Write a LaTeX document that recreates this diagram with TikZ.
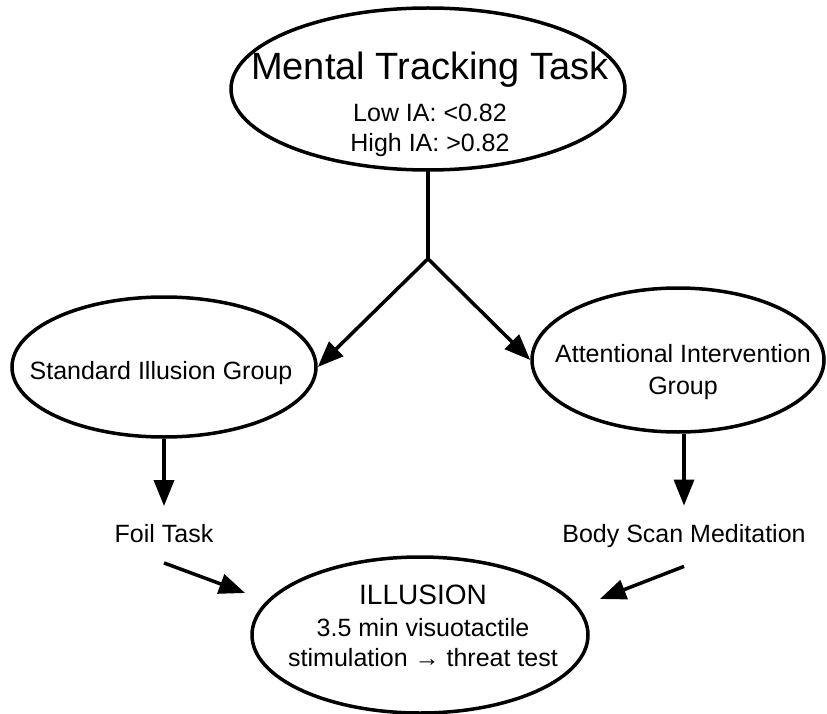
\documentclass[tikz,border=0pt]{standalone}
\usepackage{fontspec}
\setmainfont{Liberation Sans}
\usetikzlibrary{arrows.meta,shapes.geometric}

\begin{document}
\begin{tikzpicture}[x=1pt, y=-1pt, line width=3.5pt,
            oval node/.style={ellipse,draw,inner sep=0pt},
            body text/.style={align=center,inner sep=3pt,font=\fontsize{25}{30}\selectfont},
            flow/.style={-{Triangle[length=26pt,width=20pt]}}]

        \useasboundingbox (0,0) rectangle (827,714);

        % task and groups
        \node[oval node, minimum width=394pt, minimum height=162pt] (mtt) at (428,89) {};
        \node[body text] (mtt text) at (430,104) {{\fontsize{38}{44}\selectfont Mental Tracking Task}\\[12pt]
            Low IA: <0.82\\
            High IA: >0.82};
        \node[oval node, minimum width=304pt, minimum height=140pt] (sig) at (164,367) {};
        \node[body text] (sig text) at (161,373) {Standard Illusion Group};
        \node[oval node, minimum width=292pt, minimum height=144pt] (aig) at (678,360) {};
        \node[body text, font=\fontsize{25}{32}\selectfont] (aig text) at (683,372) {Attentional Intervention\\
            Group};

        % tasks and illusion
        \node[body text] (foil) at (164,534) {Foil Task};
        \node[body text] (bsm) at (684,536) {Body Scan Meditation};
        \node[oval node, minimum width=336pt, minimum height=156pt] (ill) at (420,635) {};
        \node[body text] (ill text) at (423,626) {{\fontsize{28}{34}\selectfont ILLUSION}\\[2pt]
            3.5 min visuotactile\\
            stimulation → threat test};

        \coordinate (split) at ([yshift=-87pt]mtt.south);
        \draw[line cap=round] (mtt.south) -- (split);

        \path[flow]
        (split) edge (sig.east)
        (split) edge (aig.west)
        (sig.south) edge[shorten >=14pt] (foil.north)
        (aig.south -| bsm.north) edge[shorten >=14pt] (bsm.north)
        ([yshift=-15pt]foil.south) edge ([xshift=-16pt,yshift=14pt]ill.170)
        ([yshift=-14pt]bsm.south) edge ([xshift=21pt,yshift=8pt]ill.10);
        \end{tikzpicture}
\end{document}
